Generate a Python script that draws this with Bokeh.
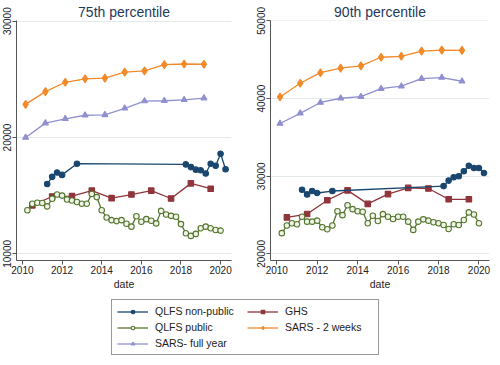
from bokeh.plotting import figure
from bokeh.layouts import column, row
from bokeh.models import Range1d, FixedTicker, Legend, LegendItem
from bokeh.embed import file_html
from bokeh.resources import INLINE

# ---------------- data ----------------
nonpub_dates = [2011.25, 2011.5, 2011.75, 2012.0, 2012.75, 2018.25, 2018.5,
                2018.75, 2019.0, 2019.25, 2019.5, 2019.75, 2020.0, 2020.25]
pub_dates = [2010.25, 2010.5, 2010.75, 2011.0, 2011.25, 2011.5, 2011.75, 2012.0,
             2012.25, 2012.5, 2012.75, 2013.0, 2013.25, 2013.5, 2013.75, 2014.0,
             2014.25, 2014.5, 2014.75, 2015.0, 2015.25, 2015.5, 2015.75, 2016.0,
             2016.25, 2016.5, 2016.75, 2017.0, 2017.25, 2017.5, 2017.75, 2018.0,
             2018.25, 2018.5, 2018.75, 2019.0, 2019.25, 2019.5, 2019.75, 2020.0]
ghs_dates = [2010.5, 2011.5, 2012.5, 2013.5, 2014.5, 2015.5, 2016.5, 2017.5, 2018.5, 2019.5]
sars_dates = [2010.16, 2011.16, 2012.16, 2013.16, 2014.16, 2015.16, 2016.16,
              2017.16, 2018.16, 2019.16]

# 75th percentile
p75_nonpub = [16000, 16620, 16990, 16790, 17750, 17690, 17460, 17240, 17190,
              16910, 17750, 17580, 18600, 17270]
p75_pub = [13745, 14310, 14395, 14370, 14080, 14735, 15100, 15010, 14675, 14590,
           14455, 14310, 14310, 15155, 14880, 13745, 13130, 12900, 12815, 12900,
           12590, 12340, 13240, 12760, 12985, 12850, 12620, 13695, 13380, 13270,
           13185, 12560, 11775, 11545, 11715, 12200, 12340, 12200, 12055, 12000]
p75_ghs = [14170, 14930, 14960, 15435, 14790, 15100, 15435, 14760, 16060, 15600]
p75_sars2w = [22850, 23950, 24750, 25050, 25110, 25620, 25730, 26270, 26320, 26300]
p75_sarsfy = [20000, 21240, 21610, 21915, 21950, 22510, 23135, 23160, 23245, 23390]

# 90th percentile
p90_nonpub = [28260, 27660, 28095, 27840, 28095, 28730, 29440, 29870, 30000,
              30635, 31350, 31055, 31055, 30420]
p90_pub = [22670, 23650, 23940, 23810, 24790, 24155, 24155, 24280, 23430, 23180,
           23650, 25500, 24990, 26265, 25760, 25500, 25430, 23940, 24920, 24230,
           25120, 24790, 24490, 24790, 24790, 24155, 23090, 24155, 24450, 24280,
           24070, 23940, 23720, 23215, 23810, 23720, 24360, 25340, 25080, 23940]
p90_ghs = [24700, 25130, 26910, 28180, 26440, 27700, 28500, 28420, 27030, 27030]
p90_sars2w = [40200, 41975, 43330, 43920, 44215, 45320, 45440, 46110, 46240, 46200]
p90_sarsfy = [36785, 38100, 39494, 40040, 40250, 41266, 41595, 42570, 42700, 42230]

x_ticks = [2010, 2012, 2014, 2016, 2018, 2020]
p75_ticks = [10000, 20000, 30000]
p90_ticks = [20000, 30000, 40000, 50000]

series_names = ["QLFS non-public", "QLFS public", "SARS- full year", "GHS", "SARS - 2 weeks"]

# ---------------- styles ----------------
FONT = "Liberation Sans"
C_NAVY = "#1a476f"
C_GREEN = "#55752f"
C_RED = "#90353b"
C_ORANGE = "#f28a2a"
C_PURPLE = "#9090d0"
G_FILL = "#eef3e6"
TXT = "#222222"
AX = "#555555"

STYLE = {
    "QLFS non-public": (C_NAVY, "circle", 5.5, C_NAVY),
    "QLFS public": (C_GREEN, "circle", 5.5, G_FILL),
    "SARS- full year": (C_PURPLE, "triangle", 6, C_PURPLE),
    "GHS": (C_RED, "square", 5.5, C_RED),
    "SARS - 2 weeks": (C_ORANGE, "diamond", 8, C_ORANGE),
}


def add_series(p, name, x, y):
    c, m, s, f = STYLE[name]
    rl = p.line(x, y, line_color=c, line_width=1.3)
    rs = p.scatter(x, y, marker=m, size=s, line_color=c, fill_color=f, line_width=1.1)
    return rl, rs


def make_panel(title, y0, y1, yticks, x0, x1, width, mbl, mbr, data):
    p = figure(width=width, height=292, output_backend="svg", toolbar_location=None,
               x_range=Range1d(x0, x1), y_range=Range1d(y0, y1),
               min_border_left=mbl, min_border_right=mbr,
               min_border_top=19, min_border_bottom=32, title=title)
    p.title.text_font = FONT
    p.title.text_font_size = "14px"
    p.title.text_font_style = "normal"
    p.title.text_color = "#1e3a5a"
    p.title.align = "center"
    p.title.standoff = 2
    p.outline_line_color = None
    p.background_fill_color = "white"
    p.border_fill_color = "white"

    p.xaxis.ticker = FixedTicker(ticks=x_ticks)
    p.yaxis.ticker = FixedTicker(ticks=yticks)
    p.xaxis.axis_label = "date"
    p.xaxis.axis_label_text_font = FONT
    p.xaxis.axis_label_text_font_size = "10.5px"
    p.xaxis.axis_label_text_font_style = "normal"
    p.xaxis.axis_label_text_color = TXT
    p.xaxis.axis_label_standoff = 1
    for ax in (p.xaxis, p.yaxis):
        ax.major_label_text_font = FONT
        ax.major_label_text_font_size = "10px"
        ax.major_label_text_color = TXT
        ax.major_tick_in = 0
        ax.major_tick_out = 4
        ax.minor_tick_in = 0
        ax.minor_tick_out = 0
        ax.major_label_standoff = 1
        ax.axis_line_color = AX
        ax.major_tick_line_color = AX
    p.yaxis.major_label_orientation = "vertical"
    p.xgrid.visible = False
    p.ygrid.grid_line_color = "#e4e9ec"
    p.ygrid.grid_line_width = 1

    nonpub, pub, ghs, s2w, sfy = data
    add_series(p, "SARS- full year", sars_dates, sfy)
    add_series(p, "SARS - 2 weeks", sars_dates, s2w)
    add_series(p, "GHS", ghs_dates, ghs)
    add_series(p, "QLFS public", pub_dates, pub)
    add_series(p, "QLFS non-public", nonpub_dates, nonpub)
    return p


p1 = make_panel("75th percentile", 9430, 30060, p75_ticks, 2009.7, 2020.55, 242, 14, 11,
                (p75_nonpub, p75_pub, p75_ghs, p75_sars2w, p75_sarsfy))
p2 = make_panel("90th percentile", 19150, 50050, p90_ticks, 2009.69, 2020.52, 250, 28, 3,
                (p90_nonpub, p90_pub, p90_ghs, p90_sars2w, p90_sarsfy))

# ---------------- legend (series drawn out of view, only their keys show) ----------------
lg = figure(width=492, height=65, output_backend="svg", toolbar_location=None,
            x_range=Range1d(0, 1), y_range=Range1d(0, 1), min_border=0)
lg.axis.visible = False
lg.grid.visible = False
lg.outline_line_color = None

legend_data = {
    "QLFS non-public": (nonpub_dates, p75_nonpub),
    "QLFS public": (pub_dates, p75_pub),
    "SARS- full year": (sars_dates, p75_sarsfy),
    "GHS": (ghs_dates, p75_ghs),
    "SARS - 2 weeks": (sars_dates, p75_sars2w),
}
items = []
for name in series_names:
    x, y = legend_data[name]
    rl, rs = add_series(lg, name, x, y)
    items.append(LegendItem(label=name, renderers=[rl, rs]))

legend = Legend(items=items, location=(111, 2), orientation="vertical", nrows=3,
                glyph_width=31, glyph_height=9, label_height=12, label_width=88,
                label_text_font=FONT, label_text_font_size="10.5px", label_text_color=TXT,
                label_standoff=7, spacing=4, padding=5, margin=0,
                border_line_color="#333333", border_line_width=1,
                background_fill_color="white", background_fill_alpha=1)
lg.add_layout(legend)

layout = column(row(p1, p2), lg)
open("out.html", "w").write(file_html(layout, INLINE))
